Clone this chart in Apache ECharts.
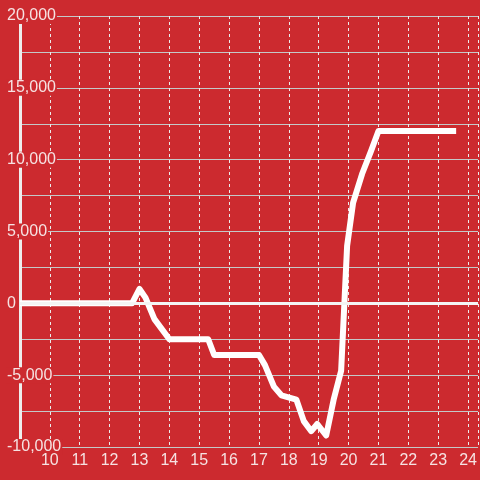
<!DOCTYPE html>
<html>
<head>
<meta charset="utf-8">
<script src="https://cdn.jsdelivr.net/npm/echarts@6/dist/echarts.min.js"></script>
<style>html,body{margin:0;padding:0;background:#cc2a2f;}#c{width:480px;height:480px;}</style>
</head>
<body>
<div id="c"></div>
<script>
var times = [9, 12.75, 13, 13.2, 13.5, 14, 15.3, 15.5, 17, 17.2, 17.5, 17.75, 18.25, 18.5, 18.75, 18.95, 19.25, 19.5, 19.75, 19.95, 20.15, 20.45, 20.75, 21, 23.6];
var values = [0, 0, 1000, 400, -1100, -2500, -2500, -3600, -3600, -4300, -5800, -6400, -6700, -8200, -8900, -8400, -9200, -6700, -4700, 4000, 7000, 9000, 10600, 12000, 12000];
var xTickLabels = ['10','11','12','13','14','15','16','17','18','19','20','21','22','23','24'];
var yTickLabels = ['-10,000','-5,000','0','5,000','10,000','15,000','20,000'];

var seriesData = times.map(function (t, i) { return [t, values[i]]; });
var textColor = '#f6e2e2';
var font = 'Liberation Sans';

var chart = echarts.init(document.getElementById('c'));
chart.setOption({
  backgroundColor: '#cc2a2f',
  animation: false,
  grid: { left: 20, right: 0, top: 16, bottom: 33, containLabel: false },
  xAxis: {
    type: 'value', min: 9, max: 24.3333, interval: 1,
    axisLine: { show: false },
    axisTick: { show: false },
    axisLabel: {
      color: textColor, fontSize: 16, fontFamily: font, margin: 6,
      showMaxLabel: false,
      formatter: function (v) {
        var s = String(Math.round(v));
        return (Math.abs(v - Math.round(v)) < 1e-6 && xTickLabels.indexOf(s) >= 0) ? s : '';
      }
    },
    splitLine: { show: true, lineStyle: { color: '#ececec', width: 1, type: [3, 3] } }
  },
  yAxis: {
    type: 'value', min: -10000, max: 20000, interval: 2500,
    axisLine: { show: true, lineStyle: { color: '#eeeeee', width: 3 } },
    axisTick: { show: false },
    axisLabel: {
      color: textColor, fontSize: 16, fontFamily: font, margin: 14, align: 'left',
      backgroundColor: '#cc2a2f', padding: [0, 1, 0, 1],
      formatter: function (v) {
        if (v % 5000 !== 0) return '';
        var idx = (v + 10000) / 5000;
        return yTickLabels[idx];
      }
    },
    splitLine: { show: true, lineStyle: { color: '#c4c8c8', width: 1 } }
  },
  series: [{
    type: 'line',
    data: seriesData,
    showSymbol: false,
    lineStyle: { color: '#ffffff', width: 6, join: 'round', cap: 'butt' },
    markLine: {
      silent: true, symbol: 'none',
      label: { show: false },
      lineStyle: { color: '#f4f4f4', width: 3, type: 'solid' },
      data: [{ yAxis: 0 }]
    },
    z: 3
  }]
});
</script>
</body>
</html>
